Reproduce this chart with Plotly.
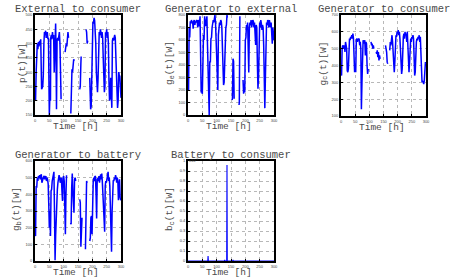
import plotly.graph_objects as go

W, H = 459, 278

# ---------------- data (time [h], value); None = gap ----------------
ext_to_cons = [(0,205),(2,200),(4,300),(6,390),(8,400),(10,380),(12,405),(14,390),(16,410),(18,395),(20,415),(22,300),(23,240),(25,245),(27,250),(29,290),(31,400),(33,440),(35,430),(37,445),(39,420),(41,430),(43,440),(45,415),(47,420),(49,230),(50,150),(52,220),(54,200),(55,420),(57,430),(59,415),(61,440),(63,420),(65,430),(67,300),(68,350),(70,470),(72,470),(73,400),(75,170),(77,410),(79,420),(81,410),(83,430),(85,440),(87,400),(89,300),(91,205),(92,None),(105,370),(107,380),(109,400),(111,390),(113,420),(115,440),(117,420),(119,None),(125,155),(127,305),(129,310),(131,300),(133,340),(135,345),(137,340),(138,None),(156,240),(158,250),(160,330),(161,355),(162,None),(178,450),(180,440),(182,400),(184,410),(185,None),(191,280),(192,175),(194,170),(196,180),(198,300),(200,460),(202,475),(204,470),(206,490),(208,480),(210,450),(212,400),(214,300),(216,240),(218,230),(220,280),(222,430),(224,440),(226,430),(228,450),(230,440),(232,420),(234,440),(236,420),(238,350),(240,260),(242,230),(244,250),(246,440),(248,430),(250,450),(252,420),(254,440),(256,400),(258,270),(260,200),(262,210),(264,280),(266,180),(268,175),(270,410),(272,420),(274,410),(276,425),(278,430),(280,420),(282,330),(284,310),(286,180),(288,175),(290,200),(292,300),(294,290),(296,285),(298,220),(300,210)]

gen_to_ext = [(0,210),(2,200),(4,700),(6,620),(8,750),(10,730),(12,760),(14,740),(16,750),(18,690),(20,750),(22,760),(24,720),(26,750),(28,740),(30,760),(32,750),(34,700),(36,760),(38,740),(40,710),(42,790),(44,560),(46,180),(48,190),(50,170),(52,560),(54,640),(56,600),(58,790),(60,740),(62,710),(64,780),(66,790),(68,560),(70,420),(72,150),(74,0),(76,430),(78,420),(80,610),(82,620),(84,700),(86,720),(88,760),(90,740),(92,780),(94,800),(96,740),(98,560),(100,350),(102,220),(104,200),(106,640),(108,680),(110,740),(112,720),(114,760),(116,750),(118,700),(120,500),(122,300),(124,240),(126,260),(128,460),(130,560),(132,700),(134,720),(136,800),(137,780),(138,None),(154,120),(155,130),(157,450),(159,430),(161,130),(162,None),(178,80),(179,100),(181,790),(182,None),(192,280),(194,170),(196,250),(198,180),(200,600),(202,620),(204,720),(206,700),(208,740),(210,420),(212,340),(214,700),(216,740),(218,720),(220,760),(222,700),(224,740),(226,760),(228,750),(230,700),(232,740),(234,600),(236,560),(238,720),(240,700),(242,420),(244,210),(246,300),(248,720),(250,740),(252,700),(254,760),(256,730),(258,680),(260,720),(262,700),(264,560),(266,150),(268,55),(270,300),(272,700),(274,740),(276,720),(278,760),(280,740),(282,700),(284,760),(286,720),(288,700),(290,740),(292,640),(294,570),(296,700),(298,640),(300,600)]

gen_to_cons = [(0,350),(2,340),(4,500),(6,520),(8,510),(10,500),(12,520),(14,480),(16,540),(18,520),(20,500),(22,370),(24,360),(26,380),(28,540),(30,560),(32,550),(34,570),(36,560),(38,580),(40,560),(42,590),(44,560),(46,440),(48,360),(50,380),(52,360),(54,550),(56,560),(58,540),(60,560),(62,550),(64,560),(66,520),(68,540),(70,500),(72,140),(74,300),(76,540),(78,550),(80,530),(82,540),(84,550),(86,460),(88,540),(90,530),(92,400),(94,350),(96,380),(97,None),(106,540),(108,520),(110,530),(112,500),(114,520),(116,500),(117,None),(124,480),(126,470),(128,490),(130,450),(132,480),(134,430),(136,460),(138,440),(139,None),(157,520),(159,500),(161,480),(163,420),(165,410),(166,None),(172,490),(174,540),(176,520),(178,560),(180,580),(182,540),(184,480),(186,380),(188,360),(190,420),(192,560),(194,580),(196,570),(198,600),(200,590),(202,610),(204,580),(206,600),(208,560),(210,460),(212,360),(214,350),(216,380),(218,560),(220,570),(222,590),(224,560),(226,600),(228,580),(230,590),(232,540),(234,600),(236,480),(238,380),(240,360),(242,420),(244,540),(246,560),(248,540),(250,570),(252,560),(254,580),(256,560),(258,420),(260,340),(262,360),(264,530),(266,540),(268,560),(270,550),(272,570),(274,560),(276,580),(278,540),(280,570),(282,500),(284,360),(286,300),(288,310),(290,300),(292,290),(294,310),(296,380),(298,420),(300,410)]

gen_to_batt = [(0,160),(2,150),(4,450),(6,440),(8,500),(10,480),(12,510),(14,500),(16,515),(18,490),(20,510),(22,520),(24,470),(26,490),(28,500),(30,505),(32,510),(34,490),(36,500),(38,510),(40,480),(42,500),(44,490),(46,460),(48,340),(50,200),(52,300),(54,150),(56,420),(58,430),(60,480),(62,500),(64,510),(66,535),(68,300),(70,5),(72,150),(74,300),(76,420),(78,430),(80,470),(82,500),(84,515),(86,500),(88,470),(90,480),(92,500),(94,420),(96,360),(98,500),(100,510),(102,480),(104,300),(106,160),(108,400),(110,515),(111,None),(124,230),(126,220),(128,440),(130,525),(132,420),(134,300),(136,290),(138,490),(140,500),(142,480),(143,None),(156,370),(158,350),(160,85),(162,200),(164,260),(165,None),(176,70),(178,300),(180,480),(182,470),(183,None),(191,120),(193,140),(195,260),(197,270),(199,160),(201,450),(203,470),(205,500),(207,480),(209,510),(211,505),(213,400),(215,255),(217,490),(219,495),(221,480),(223,510),(225,470),(227,500),(229,520),(231,490),(233,525),(235,470),(237,400),(239,275),(241,180),(243,175),(245,450),(247,480),(249,470),(251,500),(253,510),(255,535),(257,480),(259,500),(261,450),(263,300),(265,120),(267,55),(269,300),(271,460),(273,485),(275,480),(277,500),(279,490),(281,515),(283,500),(285,470),(287,500),(289,480),(291,365),(293,470),(295,490),(297,380),(299,365),(300,370)]

batt_to_cons = [(0,0),(69,0),(70,0.05),(71,0),(127,0),(128,0.01),(129,0),(135,0),(136,0.96),(137,0),(156,0),(157,0.01),(158,0),(300,0)]

x_ticks = [0, 50, 100, 150, 200, 250, 300]

panels = [
    # data, title, ylabel, yrange, dtick, plot box px (left, right, top, bottom), ylabel offset
    (ext_to_cons, "External to consumer", "p(t)[W]", [150, 500], 50, (35, 121, 15, 115), 13),
    (gen_to_ext, "Generator to external", "g<sub>e</sub>(t)[W]", [0, 800], 100, (188, 274, 15, 115), 18),
    (gen_to_cons, "Generator to consumer", "g<sub>c</sub>(t)[W]", [100, 700], 100, (341, 426, 15, 116), 18),
    (gen_to_batt, "Generator to battery", "g<sub>b</sub>(t)[W]", [0, 600], 100, (35, 121, 161, 261), 18),
    (batt_to_cons, "Battery to consumer", "b<sub>c</sub>(t)[W]", [0, 1], 0.1, (188, 274, 161, 261), 18),
]

fig = go.Figure()
annotations = []
MONO = "Liberation Mono"

for i, (data, title, ylab, yr, dt, (l, r, t, b), yoff) in enumerate(panels):
    n = "" if i == 0 else str(i + 1)
    xs = [p[0] for p in data]
    ys = [p[1] for p in data]
    lw = 1.1 if i == 4 else 1.5
    fig.add_trace(go.Scatter(x=xs, y=ys, mode="lines", xaxis="x" + n, yaxis="y" + n,
                             line=dict(color="#0000ff", width=lw), connectgaps=False,
                             showlegend=False, hoverinfo="skip"))
    common = dict(showline=True, mirror=True, linecolor="black", linewidth=2,
                  showgrid=True, gridcolor="#b8b8b8", griddash="dot", gridwidth=0.7,
                  zeroline=False, ticks="inside", ticklen=2, tickcolor="black",
                  automargin=False,
                  tickfont=dict(family="Liberation Sans", size=4, color="#444"))
    fig.update_layout(**{
        "xaxis" + n: dict(domain=[l / W, r / W], anchor="y" + n, range=[0, 300],
                          tickvals=x_ticks, **common),
        "yaxis" + n: dict(domain=[1 - b / H, 1 - t / H], anchor="x" + n, range=yr,
                          dtick=dt, **common),
    })
    cx = (l + r) / 2
    annotations.append(dict(text=title, x=cx / W, y=1 - (t - 6) / H, xref="paper", yref="paper",
                            xanchor="center", yanchor="middle", showarrow=False,
                            font=dict(family=MONO, size=10.5, color="#4a4a4a")))
    annotations.append(dict(text="Time [h]", x=(cx - 2) / W, y=1 - (b + 11) / H, xref="paper",
                            yref="paper", xanchor="center", yanchor="middle", showarrow=False,
                            font=dict(family=MONO, size=9.5, color="#4a4a4a")))
    annotations.append(dict(text=ylab, x=(l - yoff) / W, y=1 - ((t + b) / 2 - 2) / H, xref="paper",
                            yref="paper", xanchor="center", yanchor="middle", showarrow=False,
                            textangle=-90, font=dict(family=MONO, size=9.5, color="#4a4a4a")))

annotations.append(dict(text="x10<sup>-5</sup>", x=(188 + 5) / W, y=1 - 159.5 / H, xref="paper",
                        yref="paper", xanchor="center", yanchor="middle", showarrow=False,
                        font=dict(family="Liberation Sans", size=4, color="#444")))

fig.update_layout(width=W, height=H, margin=dict(l=0, r=0, t=0, b=0),
                  paper_bgcolor="white", plot_bgcolor="white", annotations=annotations)

fig.write_html("out.html", config={"displayModeBar": False},
               post_script="document.body.style.margin='0px';document.body.style.padding='0px';")
